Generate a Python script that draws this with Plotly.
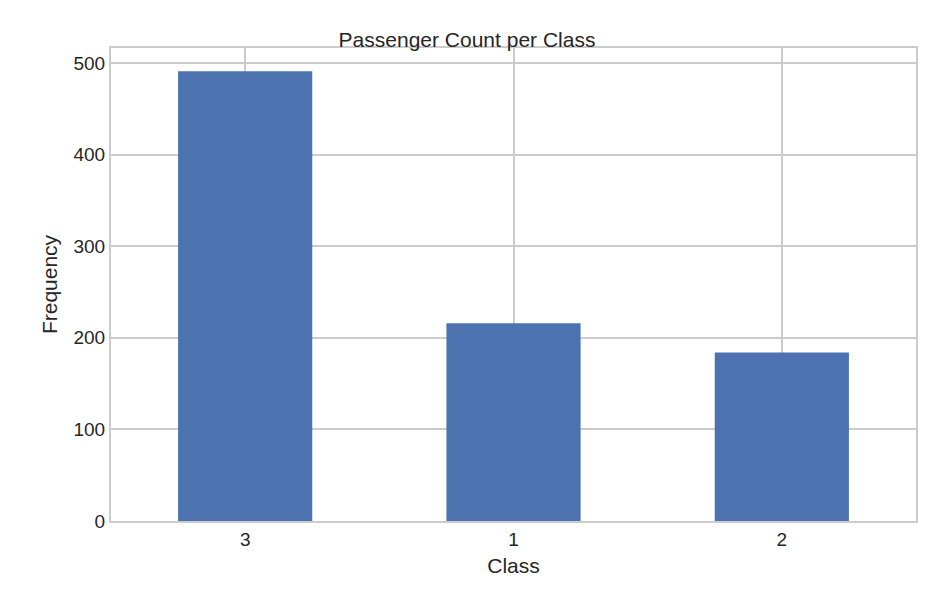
import plotly.graph_objects as go

classes = ["3", "1", "2"]
counts = [491, 216, 184]

fig = go.Figure(go.Bar(x=classes, y=counts, marker_color="#4c72b0", width=0.5, marker_line_width=0))
ax = dict(showgrid=True, gridcolor="#cccccc", gridwidth=1.5, showline=True, linecolor="#cccccc",
          linewidth=2, mirror=True, ticks="", tickfont=dict(size=19, color="#262626"), zeroline=False)
fig.update_layout(
    width=918, height=598, plot_bgcolor="white", paper_bgcolor="white",
    margin=dict(l=103, r=8, t=40, b=85),
    font=dict(family="Liberation Sans, Arial", color="#262626"),
    title=dict(text="Passenger Count per Class", x=0.5, xanchor="center", y=0.96, font=dict(size=21)),
    xaxis=dict(ax, title=dict(text="Class", font=dict(size=21), standoff=10), range=[-0.5, 2.5]),
    yaxis=dict(ax, title=dict(text="Frequency", font=dict(size=21), standoff=10), range=[0, 516.4],
               tickvals=[0, 100, 200, 300, 400, 500]),
    bargap=0.5, showlegend=False,
)
fig.write_html("out.html")
